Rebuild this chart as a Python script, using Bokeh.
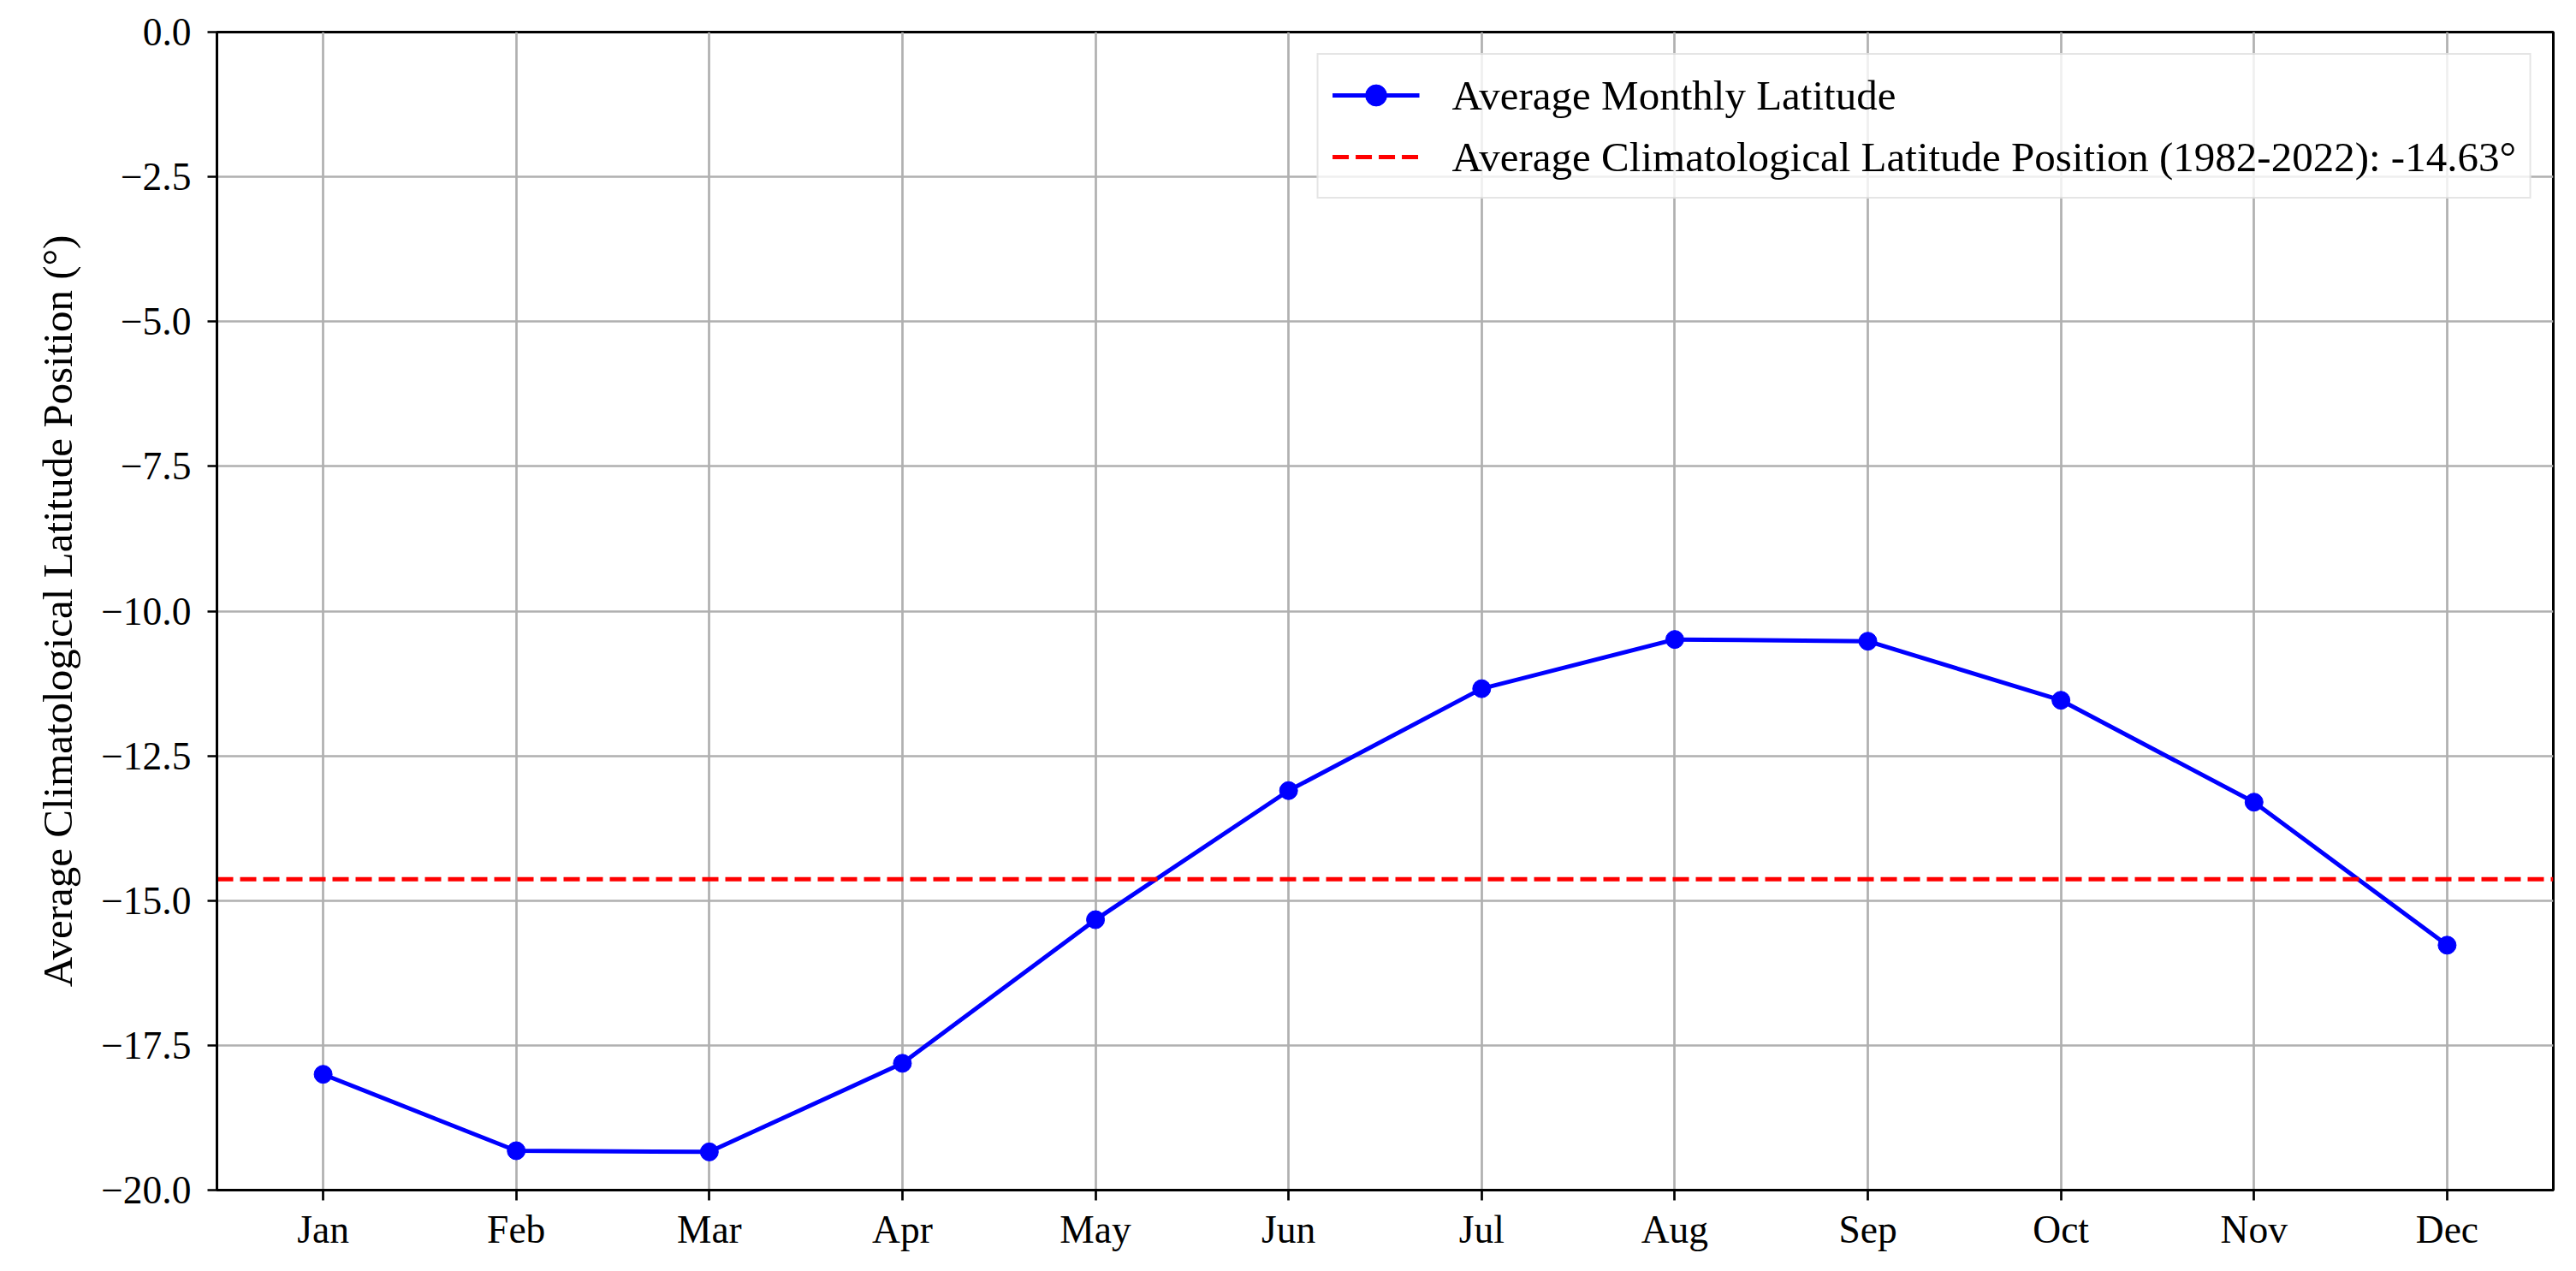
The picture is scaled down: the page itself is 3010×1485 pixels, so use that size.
from bokeh.plotting import figure
from bokeh.models import FixedTicker, Legend, LegendItem, ColumnDataSource, Range1d
from bokeh.embed import file_html
from bokeh.resources import INLINE

months = ["Jan", "Feb", "Mar", "Apr", "May", "Jun", "Jul", "Aug", "Sep", "Oct", "Nov", "Dec"]
monthly_lat = [-18.00, -19.32, -19.34, -17.81, -15.33, -13.10, -11.34, -10.49, -10.52, -11.54, -13.30, -15.77]
avg_lat = -14.63
y_ticks = [0.0, -2.5, -5.0, -7.5, -10.0, -12.5, -15.0, -17.5, -20.0]
y_tick_labels = ["0.0", "\u22122.5", "\u22125.0", "\u22127.5", "\u221210.0", "\u221212.5", "\u221215.0", "\u221217.5", "\u221220.0"]
legend_labels = ["Average Monthly Latitude", "Average Climatological Latitude Position (1982-2022): -14.63\u00b0"]
y_label = "Average Climatological Latitude Position (\u00b0)"

FONT = "Liberation Serif"
x_idx = list(range(len(months)))
pad = 0.05 * (len(months) - 1)
x_lo, x_hi = -pad, len(months) - 1 + pad

p = figure(width=3010, height=1485, output_backend="svg", toolbar_location=None,
           x_range=Range1d(x_lo, x_hi), y_range=Range1d(-20, 0),
           min_border_left=253, min_border_right=27, min_border_top=37, min_border_bottom=95)

p.background_fill_color = "white"
p.outline_line_color = "black"
p.outline_line_width = 3

# axes
p.xaxis.ticker = FixedTicker(ticks=x_idx)
p.xaxis.major_label_overrides = {i: m for i, m in zip(x_idx, months)}
p.yaxis.ticker = FixedTicker(ticks=y_ticks)
p.yaxis.major_label_overrides = {t: l for t, l in zip(y_ticks, y_tick_labels)}
for ax in (p.xaxis, p.yaxis):
    ax.major_label_text_font = FONT
    ax.major_label_text_font_size = "45.5px"
    ax.major_label_text_color = "black"
    ax.axis_line_color = "black"
    ax.axis_line_width = 3
    ax.major_tick_line_color = "black"
    ax.major_tick_line_width = 2.7
    ax.major_tick_in = 0
    ax.minor_tick_line_color = None
p.xaxis.major_tick_out = 12
p.xaxis.major_label_standoff = 8
p.yaxis.major_tick_out = 11
p.yaxis.major_label_standoff = 19

p.yaxis.axis_label = y_label
p.yaxis.axis_label_text_font = FONT
p.yaxis.axis_label_text_font_size = "49px"
p.yaxis.axis_label_text_font_style = "normal"
p.yaxis.axis_label_text_color = "black"
p.yaxis.axis_label_standoff = 20

p.grid.grid_line_color = "#b0b0b0"
p.grid.grid_line_width = 2.7

src = ColumnDataSource(dict(x=x_idx, y=monthly_lat))
line_r = p.line("x", "y", source=src, line_color="blue", line_width=5)
pts_r = p.scatter("x", "y", source=src, size=21, fill_color="blue", line_color="blue", marker="circle")

# horizontal mean line spanning the full x range
avg_src = ColumnDataSource(dict(x=[x_lo, x_hi], y=[avg_lat, avg_lat]))
avg_r = p.line("x", "y", source=avg_src, line_color="red", line_width=5, line_dash="19 8")

legend = Legend(items=[LegendItem(label=legend_labels[0], renderers=[line_r, pts_r]),
                       LegendItem(label=legend_labels[1], renderers=[avg_r])],
                location="top_right")
legend.margin = 25
legend.label_text_font = FONT
legend.label_text_font_size = "49px"
legend.label_text_color = "black"
legend.glyph_width = 102
legend.glyph_height = 62
legend.label_height = 62
legend.label_standoff = 38
legend.padding = 16
legend.spacing = 10
legend.border_line_color = "#cccccc"
legend.border_line_width = 2
legend.background_fill_alpha = 0.8
p.add_layout(legend)

open("out.html", "w").write(file_html(p, INLINE))
